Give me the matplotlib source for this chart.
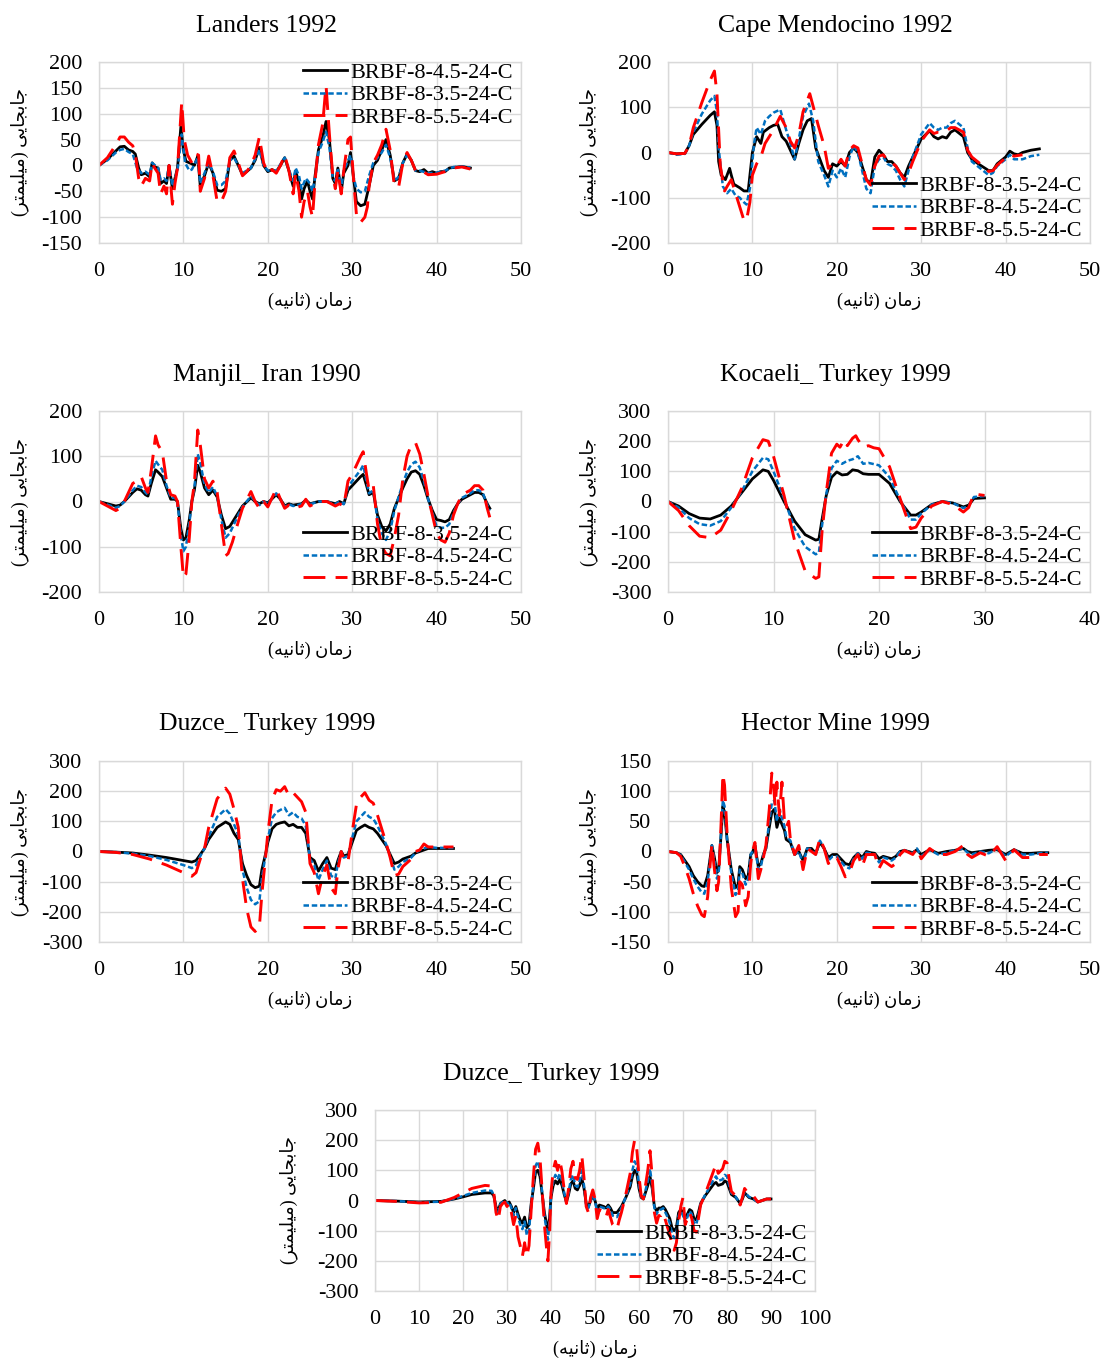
"""
Roof displacement time histories of three BRBF frames under seven records.
"""

import numpy as np
import matplotlib.pyplot as plt
from matplotlib.ticker import MultipleLocator

# ---- data: (time s, displacement mm) ----
landers_45 = [(0, 0), (1, 12), (2, 28), (2.5, 36), (3, 37), (3.5, 30), (4, 27), (4.3, 22), (4.7, -5), (5, -18),
              (5.5, -15), (6, -22), (6.3, 5), (6.6, -3), (7, -5), (7.3, -35), (7.7, -30), (8, -35), (8.3, 0),
              (8.7, -45), (9, -25), (9.3, -5), (9.7, 75), (10, 30), (10.3, 8), (11, 3), (11.3, 0), (11.7, 18),
              (12, -40), (12.5, -20), (13, 5), (13.5, -15), (14, -48), (14.5, -50), (15, -45), (15.5, 10),
              (16, 18), (16.5, 0), (17, -18), (17.5, -12), (18, -5), (18.5, 10), (19, 35), (19.5, 0), (20, -12),
              (20.5, -8), (21, -12), (21.5, 0), (22, 15), (22.5, -10), (23, -40), (23.3, -10), (23.7, -35),
              (24, -65), (24.3, -45), (24.7, -30), (25, -50), (25.3, -65), (25.6, -20), (26, 30), (26.5, 55),
              (26.9, 85), (27.3, 50), (27.7, -25), (28, -35), (28.3, -5), (28.7, -50), (29, -15), (29.5, 0),
              (29.8, 25), (30.2, -30), (30.5, -70), (31, -78), (31.5, -75), (32, -40), (32.5, 0), (33, 10),
              (33.5, 30), (34, 50), (34.5, 20), (35, -30), (35.5, -25), (36, 5), (36.5, 22), (37, 10),
              (37.5, -10), (38, -12), (38.5, -8), (39, -15), (39.5, -12), (40, -15), (40.5, -12), (41, -12),
              (41.5, -5), (42, -4), (43, -2), (44, -5)]
landers_35 = [(0, 0), (1, 10), (2, 25), (2.5, 30), (3, 32), (3.5, 26), (4, 22), (4.5, -5), (5, -15), (5.5, -12),
              (6, -18), (6.3, 5), (7, -5), (7.3, -28), (7.7, -25), (8, -30), (8.3, 0), (8.7, -40), (9.3, -10),
              (9.8, 60), (10.2, 5), (10.7, -10), (11, -8), (11.7, 15), (12, -35), (12.5, -15), (13, 5),
              (13.5, -12), (14, -38), (14.5, -38), (15, -30), (15.5, 10), (16, 15), (17, -15), (18, -5),
              (19, 30), (19.5, 0), (20, -10), (21, -10), (22, 15), (22.5, -8), (23, -30), (23.3, -5),
              (23.7, -20), (24, -45), (24.5, -25), (25, -35), (25.3, -50), (25.7, -15), (26, 25), (26.5, 45),
              (26.9, 65), (27.3, 35), (27.7, -25), (28, -30), (28.3, -5), (28.7, -45), (29, -10), (29.8, 20),
              (30.2, -25), (30.5, -45), (31, -52), (31.5, -50), (32, -20), (32.5, 5), (33, 15), (33.5, 25),
              (34, 40), (34.5, 15), (35, -30), (35.5, -22), (36, 5), (36.5, 20), (37, 10), (37.5, -10),
              (38, -10), (39, -15), (40, -14), (41, -10), (42, -3), (43, -2), (44, -4)]
landers_55 = [(0, 0), (1, 15), (2, 40), (2.5, 55), (3, 55), (3.5, 45), (4, 38), (4.3, 22), (4.7, -25), (5, -40),
              (5.5, -25), (6, -30), (6.3, 5), (6.6, -5), (7, -15), (7.3, -55), (7.7, -40), (8, -55), (8.3, 0),
              (8.7, -75), (9, -35), (9.3, -5), (9.8, 122), (10.1, 50), (10.5, 20), (11, 5), (11.5, 22),
              (11.8, 20), (12, -50), (12.5, -25), (13, 18), (13.5, -20), (14, -70), (14.5, -70), (15, -50),
              (15.5, 15), (16, 28), (16.5, 5), (17, -20), (17.5, -12), (18, 0), (18.5, 20), (19, 55),
              (19.5, 5), (20, -15), (20.5, -8), (21, -15), (21.5, 0), (22, 20), (22.5, -10), (23, -55),
              (23.3, -15), (23.7, -50), (24, -100), (24.3, -70), (24.7, -50), (25, -80), (25.3, -100),
              (25.6, -30), (26, 40), (26.5, 80), (26.9, 155), (27.3, 60), (27.7, -20), (28, -45), (28.3, -10),
              (28.7, -55), (29, -10), (29.5, 50), (29.8, 55), (30.2, -35), (30.5, -95), (31, -110),
              (31.5, -100), (31.8, -80), (32, -40), (32.5, 5), (33, 20), (33.5, 40), (34, 70), (34.5, 30),
              (35, -40), (35.5, -42), (36, 5), (36.5, 25), (37, 10), (37.5, -10), (38, -8), (39, -18),
              (40, -17), (41, -12), (42, -5), (43, -3), (44, -7)]

cape_35 = [(0, 0), (1, -3), (2, -2), (2.5, 15), (3, 40), (4, 62), (5, 82), (5.5, 90), (5.8, 60), (6, -20),
           (6.3, -50), (6.8, -60), (7.3, -35), (7.5, -50), (7.8, -70), (8.5, -78), (9, -85), (9.5, -85),
           (10, 0), (10.5, 35), (11, 20), (11.3, 45), (12, 55), (12.5, 60), (13, 62), (13.5, 35), (14, 25),
           (14.5, 5), (15, -15), (15.5, 20), (16, 50), (16.5, 70), (17, 75), (17.5, 10), (18, -15),
           (18.5, -40), (19, -55), (19.5, -25), (20, -30), (20.5, -20), (21, -30), (21.5, 0), (22, 10),
           (22.5, 0), (23, -30), (23.5, -60), (24, -68), (24.5, -10), (25, 5), (25.5, -5), (26, -20),
           (26.5, -20), (27, -30), (27.5, -45), (28, -55), (28.5, -30), (29, -10), (30, 30), (31, 48),
           (31.5, 35), (32, 30), (32.5, 35), (33, 32), (33.5, 45), (34, 50), (35, 35), (35.5, 0), (36, -15),
           (37, -28), (38, -40), (38.5, -40), (39, -25), (40, -10), (40.5, 3), (41, -3), (41.5, -5), (42, 0),
           (43, 5), (44, 8)]
cape_45 = [(0, 0), (1, -5), (2, -3), (2.5, 15), (3, 45), (4, 85), (5, 115), (5.5, 125), (5.8, 90), (6, 10),
           (6.5, -75), (7, -90), (7.5, -80), (8, -95), (8.5, -100), (9, -110), (9.3, -115), (9.7, -80),
           (10.2, 20), (10.5, 55), (11, 40), (11.5, 70), (12, 80), (12.5, 88), (13.3, 95), (14, 50),
           (14.5, 20), (15, -15), (15.5, 30), (16, 80), (16.7, 108), (17.2, 70), (17.8, -20), (18.5, -50),
           (19, -75), (19.5, -40), (20, -55), (20.5, -35), (21, -55), (21.5, -10), (22, 15), (22.5, 0),
           (23, -40), (23.5, -80), (24, -90), (24.5, -30), (25, -15), (25.5, -10), (26, -25), (26.5, -30),
           (27, -40), (27.5, -60), (28, -75), (28.5, -40), (29, -10), (30, 40), (31, 65), (31.5, 55),
           (32, 50), (32.5, 55), (33, 55), (33.5, 65), (34, 70), (35, 55), (35.5, 10), (36, -20), (37, -35),
           (38, -50), (38.5, -45), (39, -30), (40, -15), (40.5, -5), (41, -15), (42, -15), (43, -8),
           (44, -5)]
cape_55 = [(0, 0), (1, -3), (2, -2), (2.5, 15), (3, 55), (4, 110), (5, 160), (5.5, 180), (5.8, 130),
           (6.2, -30), (6.7, -85), (7, -75), (7.5, -60), (8, -90), (8.5, -120), (9, -150), (9.3, -150),
           (9.7, -110), (10, -50), (10.5, -25), (11, -10), (11.5, 20), (12, 35), (12.5, 50), (13.3, 80),
           (14, 55), (14.5, 25), (15, 10), (15.5, 40), (16, 90), (16.8, 130), (17.3, 95), (17.8, 60),
           (18.5, 15), (19, -35), (19.5, -25), (20, -30), (20.5, -15), (21, -30), (21.5, 5), (22, 15),
           (22.5, 10), (23, -25), (23.5, -60), (24, -72), (24.5, -30), (25, -8), (25.5, -5), (26, -18),
           (26.5, -22), (27, -30), (27.5, -45), (28, -60), (28.5, -45), (29, -20), (30, 25), (31, 50),
           (31.5, 42), (32, 45), (32.5, 45), (33, 48), (33.5, 55), (34, 55), (35, 45), (35.5, 5), (36, -10),
           (37, -25), (38, -42), (38.5, -40), (39, -28), (40, -12), (40.5, -5), (41, -8), (42, -5)]

manjil_35 = [(0, 0), (1, -5), (2, -10), (2.5, -8), (3, 0), (4, 20), (4.5, 28), (5, 25), (5.5, 15), (5.8, 12),
             (6.2, 40), (6.7, 70), (7, 65), (7.5, 55), (8, 30), (8.5, 5), (9, 5), (9.3, 0), (9.7, -60),
             (10, -85), (10.3, -80), (10.7, -40), (11, 0), (11.3, 25), (11.7, 80), (12, 65), (12.5, 30),
             (13, 15), (13.5, 25), (14, 10), (14.5, -30), (15, -60), (15.5, -55), (16, -40), (16.5, -25),
             (17, -10), (18, 8), (18.5, 0), (19, -5), (19.5, 0), (20, -3), (21, 15), (21.5, 5), (22, -10),
             (22.5, -5), (23, -8), (24, -5), (24.5, 3), (25, -5), (26, 0), (27, 0), (28, -5), (28.5, 0),
             (29, -5), (29.5, 25), (30, 35), (31, 55), (31.3, 60), (31.7, 35), (32, 15), (32.5, 20),
             (33, -30), (33.5, -55), (34, -65), (34.5, -50), (35, -15), (36, 30), (36.5, 50), (37, 65),
             (37.5, 68), (38, 60), (38.5, 35), (39, 5), (39.5, -20), (40, -40), (40.5, -42), (41, -45),
             (41.5, -40), (42, -20), (42.5, -5), (43, 5), (44, 15), (44.5, 20), (45, 20), (45.5, 15),
             (46, -5), (46.3, -15)]
manjil_45 = [(0, 0), (1, -7), (2, -14), (2.5, -10), (3, 0), (4, 25), (4.5, 35), (5, 32), (5.5, 20),
             (5.8, 15), (6.2, 55), (6.7, 90), (7, 82), (7.5, 70), (8, 35), (8.5, 8), (9, 8), (9.3, 0),
             (9.7, -75), (10, -110), (10.3, -100), (10.7, -50), (11, 0), (11.3, 30), (11.7, 105), (12, 85),
             (12.5, 38), (13, 20), (13.5, 32), (14, 12), (14.5, -40), (15, -80), (15.5, -70), (16, -50),
             (16.5, -30), (17, -12), (18, 12), (18.5, 0), (19, -8), (19.5, 0), (20, -5), (21, 18), (21.5, 5),
             (22, -12), (22.5, -6), (23, -10), (24, -6), (24.5, 3), (25, -6), (26, 0), (27, 0), (28, -6),
             (28.5, 0), (29, -6), (29.5, 32), (30, 45), (31, 70), (31.3, 80), (31.7, 45), (32, 18),
             (32.5, 25), (33, -40), (33.5, -70), (34, -85), (34.5, -65), (35, -20), (36, 40), (36.5, 65),
             (37, 82), (37.5, 88), (38, 75), (38.5, 45), (39, 5), (39.5, -25), (40, -55), (40.5, -58),
             (41, -58), (41.5, -50), (42, -25), (42.5, -5), (43, 8), (44, 18), (44.5, 25), (45, 25),
             (45.5, 18), (46, -8), (46.3, -20)]
manjil_55 = [(0, 0), (1, -10), (2, -20), (2.5, -15), (3, 0), (4, 40), (4.5, 45), (5, 55), (5.5, 30),
             (5.8, 20), (6.2, 70), (6.7, 145), (7, 125), (7.5, 110), (8, 45), (8.5, 15), (9, 12), (9.3, 0),
             (9.7, -100), (10, -168), (10.3, -160), (10.7, -80), (11, 0), (11.3, 40), (11.7, 158), (12, 125),
             (12.5, 50), (13, 30), (13.5, 45), (14, 20), (14.5, -50), (15, -120), (15.3, -115), (15.8, -90),
             (16.5, -45), (17, -15), (18, 22), (18.5, 0), (19, -15), (19.5, 0), (20, -12), (21, 28),
             (21.5, 5), (22, -15), (22.5, -8), (23, -15), (24, -10), (24.5, 5), (25, -10), (26, 0), (27, 0),
             (28, -10), (28.5, -5), (29, -10), (29.5, 45), (30, 60), (31, 100), (31.3, 110), (31.7, 60),
             (32, 25), (32.5, 35), (33, -50), (33.5, -100), (34, -115), (34.5, -120), (35, -80), (35.5, -30),
             (36, 50), (36.5, 100), (37, 125), (37.5, 130), (38, 105), (38.5, 60), (39, 10), (39.5, -30),
             (40, -70), (40.5, -85), (41, -90), (41.5, -70), (42, -30), (42.5, -5), (43, 15), (44, 25),
             (44.5, 35), (45, 35), (45.5, 25), (46, -15), (46.3, -35)]

kocaeli_35 = [(0, 0), (1, -15), (2, -40), (3, -55), (4, -58), (5, -45), (6, -15), (7, 30), (8, 75), (9, 105),
              (9.5, 100), (10, 70), (11, 0), (12, -65), (13, -110), (14, -128), (14.3, -125), (14.6, -60),
              (15, 20), (15.5, 80), (16, 98), (16.5, 88), (17, 90), (17.5, 105), (18, 102), (18.5, 92),
              (19, 90), (20, 90), (21, 60), (22, 0), (23, -45), (23.5, -45), (24, -35), (25, -10), (26, 0),
              (27, -5), (28, -18), (28.5, -12), (29, 10), (30, 12)]
kocaeli_45 = [(0, 0), (1, -20), (2, -55), (3, -75), (4, -80), (5, -65), (6, -20), (7, 35), (8, 100), (9, 145),
              (9.5, 140), (10, 100), (11, 10), (12, -90), (13, -150), (14, -175), (14.3, -170), (14.6, -80),
              (15, 25), (15.5, 110), (16, 135), (16.5, 125), (17, 135), (17.5, 140), (18, 150), (18.5, 125),
              (19, 128), (20, 120), (21, 80), (22, 5), (23, -60), (23.5, -60), (24, -40), (25, -10), (26, 0),
              (27, -5), (28, -22), (28.5, -15), (29, 15), (30, 18)]
kocaeli_55 = [(0, 0), (1, -30), (2, -80), (3, -115), (4, -120), (5, -95), (6, -30), (7, 45), (8, 145),
              (9, 205), (9.5, 200), (10, 150), (11, 20), (12, -130), (13, -230), (14, -255), (14.3, -250),
              (14.6, -100), (15, 30), (15.5, 160), (16, 190), (16.3, 180), (16.7, 205), (17, 185), (17.5, 210),
              (17.8, 218), (18, 205), (18.5, 180), (19, 185), (19.5, 178), (20, 175), (21, 115), (22, 10),
              (23, -90), (23.5, -85), (24, -55), (25, -15), (26, 0), (27, -10), (28, -35), (28.5, -20),
              (29, 25), (30, 20)]

duzce_35 = [(0, 0), (2, -2), (4, -5), (6, -12), (8, -20), (10, -30), (11, -35), (11.5, -30), (12, -10),
            (12.5, 10), (13, 40), (14, 80), (15, 98), (15.5, 90), (16, 60), (16.5, 40), (17, -40), (17.5, -80),
            (18, -110), (18.5, -120), (19, -115), (19.3, -60), (19.8, 0), (20, 30), (20.5, 75), (21, 90),
            (21.5, 95), (22, 98), (22.5, 85), (23, 90), (23.5, 80), (24, 80), (24.5, 60), (25, -20),
            (25.5, -30), (26, -65), (26.5, -40), (27, -20), (27.5, -55), (28, -60), (28.3, -30), (28.7, 0),
            (29, -15), (29.5, -10), (30, 30), (30.5, 70), (31, 80), (31.5, 88), (32, 80), (32.5, 75),
            (33, 60), (34, 20), (34.5, -10), (35, -40), (35.5, -35), (36, -25), (37, -15), (37.5, -5),
            (38, 0), (38.5, 5), (39, 10), (40, 10), (42, 10)]
duzce_45 = [(0, 0), (2, -2), (4, -7), (6, -15), (8, -28), (10, -45), (11, -55), (11.5, -45), (12, -15),
            (12.5, 10), (13, 50), (14, 115), (15, 140), (15.5, 125), (16, 90), (16.5, 55), (17, -60),
            (17.5, -120), (18, -160), (18.5, -175), (19, -165), (19.3, -90), (19.8, 0), (20, 40), (20.5, 110),
            (21, 130), (21.5, 138), (22, 145), (22.5, 120), (23, 130), (23.5, 115), (24, 110), (24.5, 85),
            (25, -25), (25.5, -45), (26, -95), (26.5, -60), (27, -30), (27.5, -80), (28, -90), (28.3, -40),
            (28.7, 0), (29, -20), (29.5, -15), (30, 45), (30.5, 100), (31, 115), (31.5, 130), (32, 115),
            (32.5, 108), (33, 85), (34, 25), (34.5, -15), (35, -60), (35.5, -50), (36, -35), (37, -20),
            (37.5, -5), (38, 5), (38.5, 10), (39, 15), (40, 12), (42, 12)]
duzce_55 = [(0, 0), (2, -3), (4, -10), (6, -25), (8, -45), (10, -70), (11, -82), (11.5, -70), (12, -25),
            (12.5, 10), (13, 80), (14, 175), (15, 210), (15.5, 190), (16, 140), (16.5, 80), (17, -90),
            (17.5, -190), (18, -250), (18.5, -265), (19, -250), (19.3, -140), (19.8, 0), (20, 60),
            (20.5, 170), (21, 205), (21.5, 200), (22, 215), (22.5, 185), (23, 195), (23.5, 180), (24, 165),
            (24.5, 130), (25, -40), (25.5, -70), (26, -140), (26.5, -80), (27, -45), (27.5, -120),
            (28, -140), (28.3, -60), (28.7, 0), (29, -25), (29.5, -35), (30, 65), (30.5, 155), (31, 180),
            (31.5, 195), (32, 170), (32.5, 160), (33, 120), (34, 30), (34.5, -20), (35, -80), (35.5, -75),
            (36, -50), (37, -25), (37.5, 0), (38, 5), (38.5, 25), (39, 15), (40, 15), (42, 15)]

hector_35 = [(0, 0), (1, -2), (1.5, -5), (2, -15), (2.5, -25), (3, -40), (3.5, -50), (4, -57), (4.3, -58),
             (4.7, -40), (5, -10), (5.2, 10), (5.5, -10), (5.8, -35), (6, -30), (6.3, 30), (6.5, 75),
             (6.7, 65), (7, 20), (7.5, -30), (8, -60), (8.3, -55), (8.5, -25), (8.8, -30), (9.2, -45),
             (9.5, -40), (9.8, -5), (10, -2), (10.3, 10), (10.7, -25), (11, -20), (11.3, -5), (11.6, 5),
             (12, 40), (12.3, 65), (12.6, 70), (12.9, 40), (13.2, 55), (13.5, 45), (13.8, 35), (14, 20),
             (14.5, 15), (15, -5), (15.5, 0), (16, -15), (16.5, 5), (17, 5), (17.5, -3), (18, 15), (18.5, 5),
             (19, -10), (19.5, -5), (20, -5), (21, -20), (21.5, -22), (22, -10), (22.5, -3), (23, -10),
             (23.5, 0), (24, -2), (24.5, -3), (25, -12), (25.5, -8), (26, -10), (26.5, -12), (27, -8),
             (27.5, 0), (28, 2), (29, -2), (29.5, 3), (30, -5), (31, 3), (32, -3), (33, 0), (34, 2), (35, 5),
             (35.5, 0), (36, -2), (37, 0), (38, 2), (39, 3), (40, -5), (41, 3), (42, -3), (43, -3), (44, -2),
             (45, -2)]
hector_45 = [(0, 0), (1, -2), (1.5, -6), (2, -18), (2.5, -30), (3, -45), (3.5, -58), (4, -68), (4.3, -70),
             (4.7, -50), (5, -12), (5.2, 10), (5.5, -15), (5.8, -45), (6, -35), (6.3, 35), (6.5, 85),
             (6.7, 75), (7, 20), (7.5, -35), (8, -72), (8.3, -65), (8.5, -30), (8.8, -35), (9.2, -55),
             (9.5, -45), (9.8, -5), (10, 0), (10.3, 10), (10.7, -30), (11, -25), (11.3, -5), (11.6, 5),
             (12, 50), (12.3, 80), (12.6, 85), (12.9, 50), (13.2, 70), (13.5, 55), (13.8, 42), (14, 25),
             (14.5, 18), (15, -5), (15.5, 0), (16, -20), (16.5, 5), (17, 3), (17.5, -5), (18, 18), (18.5, 5),
             (19, -15), (19.5, -8), (20, -8), (21, -25), (21.5, -28), (22, -12), (22.5, -3), (23, -12),
             (23.5, -2), (24, -3), (24.5, -5), (25, -18), (25.5, -10), (26, -12), (26.5, -15), (27, -10),
             (27.5, 0), (28, 2), (29, -3), (29.5, 5), (30, -8), (31, 3), (32, -5), (33, -2), (34, 2), (35, 5),
             (35.5, -2), (36, -5), (37, 0), (38, -3), (39, 5), (40, -8), (41, 3), (42, -5), (43, -5), (44, -3),
             (45, -2)]
hector_55 = [(0, 0), (1, -2), (1.5, -8), (2, -25), (2.5, -45), (3, -70), (3.5, -90), (4, -105), (4.3, -108),
             (4.7, -75), (5, -20), (5.2, 12), (5.5, -30), (5.8, -65), (6, -50), (6.3, 50), (6.5, 128),
             (6.7, 110), (7, 30), (7.5, -60), (8, -108), (8.3, -100), (8.5, -50), (8.8, -55), (9.2, -90),
             (9.5, -75), (9.8, -20), (10, 0), (10.3, 15), (10.7, -45), (11, -30), (11.3, -10), (11.6, 10),
             (12, 70), (12.3, 130), (12.5, 110), (12.7, 75), (12.9, 115), (13.2, 60), (13.5, 115), (13.8, 50),
             (14, 40), (14.3, 50), (14.5, 20), (15, -5), (15.5, 10), (16, -30), (16.5, 5), (17, 0),
             (17.5, -5), (18, 22), (18.5, 5), (19, -20), (19.5, -10), (20, -10), (20.5, -25), (21, -42),
             (21.5, -35), (22, -15), (22.5, -5), (23, -25), (23.5, -5), (24, -5), (24.5, -5), (25, -28),
             (25.5, -15), (26, -20), (26.5, -25), (27, -20), (27.5, -5), (28, 2), (29, -5), (29.5, 5),
             (30, -12), (31, 5), (32, -5), (33, -5), (34, 0), (35, 10), (35.5, -5), (36, -10), (37, -2),
             (38, -8), (39, 8), (40, -15), (41, 3), (42, -10), (43, -10), (44, -5), (45, -5)]

duzce2_35 = [(0, 0), (5, -2), (10, -5), (15, -3), (18, 5), (20, 12), (22, 20), (25, 25), (26.5, 25), (27, 15),
             (27.5, -20), (28, -35), (28.5, -10), (29, -5), (29.5, 0), (30, -10), (30.5, -5), (31, -20),
             (31.5, -40), (32, -20), (32.5, -45), (33, -65), (33.5, -75), (34, -55), (34.5, -90), (35, -80),
             (35.5, -10), (36, 40), (36.5, 95), (37, 100), (37.5, 80), (38, 20), (38.5, -40), (39, -80),
             (39.3, -100), (39.7, -50), (40, 10), (40.5, 50), (41, 65), (41.5, 55), (42, 70), (42.5, 50),
             (43, 20), (43.5, -5), (44, 20), (44.5, 55), (45, 65), (45.5, 40), (46, 35), (46.5, 50), (47, 75),
             (47.5, 40), (48, -10), (48.5, -20), (49, 0), (49.5, 15), (50, 0), (50.5, -30), (51, -15),
             (52, -20), (52.5, -25), (53, -15), (53.5, -25), (54, -40), (55, -40), (55.5, -30), (56, -20),
             (57, 10), (58, 45), (58.5, 80), (59, 100), (59.5, 90), (60, 40), (60.5, 10), (61, 5), (62, 50),
             (62.5, 80), (63, 40), (63.5, -20), (64, -35), (64.5, -25), (65, -25), (65.5, -20), (66, -30),
             (66.5, -45), (67, -60), (67.5, -90), (68, -100), (68.5, -90), (69, -40), (69.5, -30), (70, -40),
             (70.5, -60), (71, -45), (71.5, -30), (72, -35), (72.5, -60), (73, -65), (73.5, -40), (74, -10),
             (75, 15), (75.5, 25), (76, 35), (77, 55), (77.5, 60), (78, 50), (79, 55), (79.5, 65), (80, 60),
             (80.5, 40), (81, 20), (82, 10), (82.5, 0), (83, -10), (83.5, 5), (84, 25), (85, 10), (86, 5),
             (87, -5), (88, 0), (89, 5), (90, 5)]
duzce2_45 = [(0, 0), (5, -2), (10, -6), (15, -4), (18, 6), (20, 15), (22, 25), (25, 33), (26.5, 32), (27, 18),
             (27.5, -25), (28, -40), (28.5, -12), (29, -5), (29.5, 0), (30, -12), (30.5, -5), (31, -25),
             (31.5, -50), (32, -25), (32.5, -55), (33, -80), (33.5, -95), (34, -70), (34.5, -115), (35, -100),
             (35.5, -15), (36, 50), (36.5, 115), (37, 130), (37.5, 100), (38, 25), (38.5, -50), (39, -100),
             (39.3, -130), (39.7, -60), (40, 15), (40.5, 65), (41, 85), (41.5, 70), (42, 90), (42.5, 65),
             (43, 25), (43.5, -5), (44, 25), (44.5, 70), (45, 85), (45.5, 50), (46, 45), (46.5, 65),
             (47, 100), (47.5, 50), (48, -15), (48.5, -25), (49, 0), (49.5, 20), (50, 0), (50.5, -40),
             (51, -20), (52, -25), (52.5, -30), (53, -20), (53.5, -30), (54, -50), (55, -55), (55.5, -40),
             (56, -25), (57, 12), (58, 55), (58.5, 100), (59, 130), (59.5, 115), (60, 50), (60.5, 12),
             (61, 5), (62, 65), (62.5, 105), (63, 50), (63.5, -25), (64, -45), (64.5, -30), (65, -30),
             (65.5, -25), (66, -40), (66.5, -55), (67, -75), (67.5, -110), (68, -125), (68.5, -110),
             (69, -50), (69.5, -35), (70, -50), (70.5, -75), (71, -55), (71.5, -35), (72, -45), (72.5, -75),
             (73, -80), (73.5, -50), (74, -12), (75, 18), (75.5, 30), (76, 45), (77, 70), (77.5, 80),
             (78, 65), (79, 70), (79.5, 85), (80, 80), (80.5, 50), (81, 25), (82, 12), (82.5, 0), (83, -10),
             (83.5, 5), (84, 28), (85, 12), (86, 5), (87, -5), (88, 0), (89, 5), (90, 5)]
duzce2_55 = [(0, 0), (5, -3), (10, -8), (15, -6), (18, 10), (20, 25), (22, 40), (25, 50), (26.5, 48), (27, 25),
             (27.5, -40), (28, -65), (28.5, -20), (29, -10), (29.5, -5), (30, -20), (30.5, -10), (31, -40),
             (31.5, -80), (32, -50), (32.5, -120), (33, -150), (33.5, -185), (34, -140), (34.5, -185),
             (35, -150), (35.5, -30), (36, 80), (36.5, 170), (37, 190), (37.5, 140), (38, 30), (38.5, -80),
             (39, -160), (39.3, -200), (39.7, -100), (40, 25), (40.5, 100), (41, 130), (41.5, 100),
             (42, 135), (42.5, 95), (43, 35), (43.5, -10), (44, 40), (44.5, 105), (45, 130), (45.5, 75),
             (46, 70), (46.5, 100), (47, 150), (47.5, 75), (48, -20), (48.5, -40), (49, 10), (49.5, 35),
             (50, 5), (50.5, -60), (51, -30), (52, -40), (52.5, -55), (53, -30), (53.5, -55), (54, -80),
             (55, -95), (55.5, -65), (56, -40), (57, 20), (58, 90), (58.5, 160), (59, 200), (59.5, 170),
             (60, 80), (60.5, 15), (61, 5), (62, 100), (62.5, 165), (63, 80), (63.5, -40), (64, -75),
             (64.5, -50), (65, -50), (65.5, -40), (66, -65), (66.5, -90), (67, -110), (67.5, -150),
             (68, -165), (68.5, -140), (69, -70), (69.5, -20), (70, 10), (70.5, -80), (71, -60), (71.5, -40),
             (72, -60), (72.5, -100), (73, -105), (73.5, -60), (74, -15), (75, 20), (75.5, 40), (76, 60),
             (77, 100), (77.5, 120), (78, 90), (79, 105), (79.5, 130), (80, 125), (80.5, 70), (81, 30),
             (82, 15), (82.5, 0), (83, -15), (83.5, 10), (84, 40), (85, 20), (86, 15), (87, -5), (88, 0),
             (89, 5), (90, 5)]

x_label = "زمان (ثانیه)"
y_label = "جابجایی (میلیمتر)"

W, H = 1103, 1361

# letter -> (isolated, final, initial, medial); right-joining letters have no initial/medial
FORMS = {
    "ا": ("\uFE8D", "\uFE8E", None, None),
    "ز": ("\uFEAF", "\uFEB0", None, None),
    "ر": ("\uFEAD", "\uFEAE", None, None),
    "م": ("\uFEE1", "\uFEE2", "\uFEE3", "\uFEE4"),
    "ن": ("\uFEE5", "\uFEE6", "\uFEE7", "\uFEE8"),
    "ث": ("\uFE99", "\uFE9A", "\uFE9B", "\uFE9C"),
    "ی": ("\uFEEF", "\uFEF0", "\uFEF3", "\uFEF4"),
    "ه": ("\uFEE9", "\uFEEA", "\uFEEB", "\uFEEC"),
    "ج": ("\uFE9D", "\uFE9E", "\uFE9F", "\uFEA0"),
    "ب": ("\uFE8F", "\uFE90", "\uFE91", "\uFE92"),
    "ل": ("\uFEDD", "\uFEDE", "\uFEDF", "\uFEE0"),
    "ت": ("\uFE95", "\uFE96", "\uFE97", "\uFE98"),
}


def shape_rtl(text):
    """Join Persian letters into presentation forms and lay them out left to right."""
    out = []
    for i, ch in enumerate(text):
        forms = FORMS.get(ch)
        if forms is None:
            out.append(ch)
            continue
        prev = text[i - 1] if i > 0 else ""
        nxt = text[i + 1] if i + 1 < len(text) else ""
        j_prev = prev in FORMS and FORMS[prev][2] is not None
        j_next = forms[2] is not None and nxt in FORMS
        if j_prev and j_next:
            out.append(forms[3])
        elif j_prev:
            out.append(forms[1])
        elif j_next:
            out.append(forms[2])
        else:
            out.append(forms[0])
    mirror = {"(": ")", ")": "("}
    return "".join(mirror.get(c, c) for c in reversed(out))


def unzip(pairs):
    arr = np.array(pairs, dtype=float)
    return arr[:, 0], arr[:, 1]


STYLE = {
    "black": dict(color="black", lw=2.0, ls="-"),
    "blue": dict(color="#0070C0", lw=1.8, ls=(0, (2.2, 1.1))),
    "red": dict(color="#FF0000", lw=2.1, ls=(0, (7.5, 3.5))),
}

panels = [
    # title, title centre px, axes box px (l, t, r, b), xmax, xstep, ylim, ystep, series, legend loc
    ("Landers 1992", (267, 26), (99, 62, 521, 243), 50, 10, (-150, 200), 50,
     [("BRBF-8-4.5-24-C", "black", landers_45), ("BRBF-8-3.5-24-C", "blue", landers_35),
      ("BRBF-8-5.5-24-C", "red", landers_55)], "upper right"),
    ("Cape Mendocino 1992", (835, 26), (668, 62, 1090, 243), 50, 10, (-200, 200), 100,
     [("BRBF-8-3.5-24-C", "black", cape_35), ("BRBF-8-4.5-24-C", "blue", cape_45),
      ("BRBF-8-5.5-24-C", "red", cape_55)], "lower right"),
    ("Manjil_ Iran 1990", (267, 375), (99, 411, 521, 592), 50, 10, (-200, 200), 100,
     [("BRBF-8-3.5-24-C", "black", manjil_35), ("BRBF-8-4.5-24-C", "blue", manjil_45),
      ("BRBF-8-5.5-24-C", "red", manjil_55)], "lower right"),
    ("Kocaeli_ Turkey 1999", (835, 375), (668, 411, 1090, 592), 40, 10, (-300, 300), 100,
     [("BRBF-8-3.5-24-C", "black", kocaeli_35), ("BRBF-8-4.5-24-C", "blue", kocaeli_45),
      ("BRBF-8-5.5-24-C", "red", kocaeli_55)], "lower right"),
    ("Duzce_ Turkey 1999", (267, 724), (99, 761, 521, 942), 50, 10, (-300, 300), 100,
     [("BRBF-8-3.5-24-C", "black", duzce_35), ("BRBF-8-4.5-24-C", "blue", duzce_45),
      ("BRBF-8-5.5-24-C", "red", duzce_55)], "lower right"),
    ("Hector Mine 1999", (835, 724), (668, 761, 1090, 942), 50, 10, (-150, 150), 50,
     [("BRBF-8-3.5-24-C", "black", hector_35), ("BRBF-8-4.5-24-C", "blue", hector_45),
      ("BRBF-8-5.5-24-C", "red", hector_55)], "lower right"),
    ("Duzce_ Turkey 1999", (551, 1074), (375, 1110, 815, 1291), 100, 10, (-300, 300), 100,
     [("BRBF-8-3.5-24-C", "black", duzce2_35), ("BRBF-8-4.5-24-C", "blue", duzce2_45),
      ("BRBF-8-5.5-24-C", "red", duzce2_55)], "lower right"),
]

SERIF = "Liberation Serif"
FA = [SERIF, "DejaVu Sans"]
plt.rcParams["axes.unicode_minus"] = False

fig = plt.figure(figsize=(W / 100, H / 100), dpi=100)
fig.patch.set_facecolor("white")

for title, (tx, ty), (l, t, r, b), xmax, xstep, ylim, ystep, series, loc in panels:
    ax = fig.add_axes([l / W, 1 - b / H, (r - l) / W, (b - t) / H])
    for label, key, pairs in series:
        x, y = unzip(pairs)
        ax.plot(x, y, label=label, **STYLE[key])
    ax.set_xlim(0, xmax)
    ax.set_ylim(*ylim)
    ax.xaxis.set_major_locator(MultipleLocator(xstep))
    ax.yaxis.set_major_locator(MultipleLocator(ystep))
    ax.grid(True, color="#D9D9D9", lw=1.0)
    ax.set_axisbelow(True)
    for s in ax.spines.values():
        s.set_color("#D9D9D9")
        s.set_linewidth(1.0)
    ax.tick_params(length=0, labelsize=16, pad=12)
    for lab in ax.get_xticklabels() + ax.get_yticklabels():
        lab.set_fontfamily(SERIF)
    ax.tick_params(axis="x", pad=14)

    # legend sits a touch outside the top edge / on the bottom edge
    anchor = (1.0, 1.04) if loc == "upper right" else (1.0, -0.03)
    ax.legend(loc=loc, bbox_to_anchor=anchor, frameon=False,
              prop={"family": SERIF, "size": 16},
              handlelength=2.0, handletextpad=0.15, labelspacing=0.08,
              borderaxespad=0.15, borderpad=0.2)

    fig.text(tx / W, 1 - ty / H, title, ha="center", va="center",
             family=SERIF, fontsize=18.5)
    fig.text(((l + r) / 2) / W, 1 - (b + 58) / H, shape_rtl(x_label),
             ha="center", va="center", family=FA, fontsize=13)
    ylx = l - 86 if l == 375 else l - 79
    fig.text(ylx / W, 1 - ((t + b) / 2) / H, shape_rtl(y_label),
             ha="center", va="center", rotation=90, family=FA, fontsize=13)

fig.savefig("out.png", dpi=100)
